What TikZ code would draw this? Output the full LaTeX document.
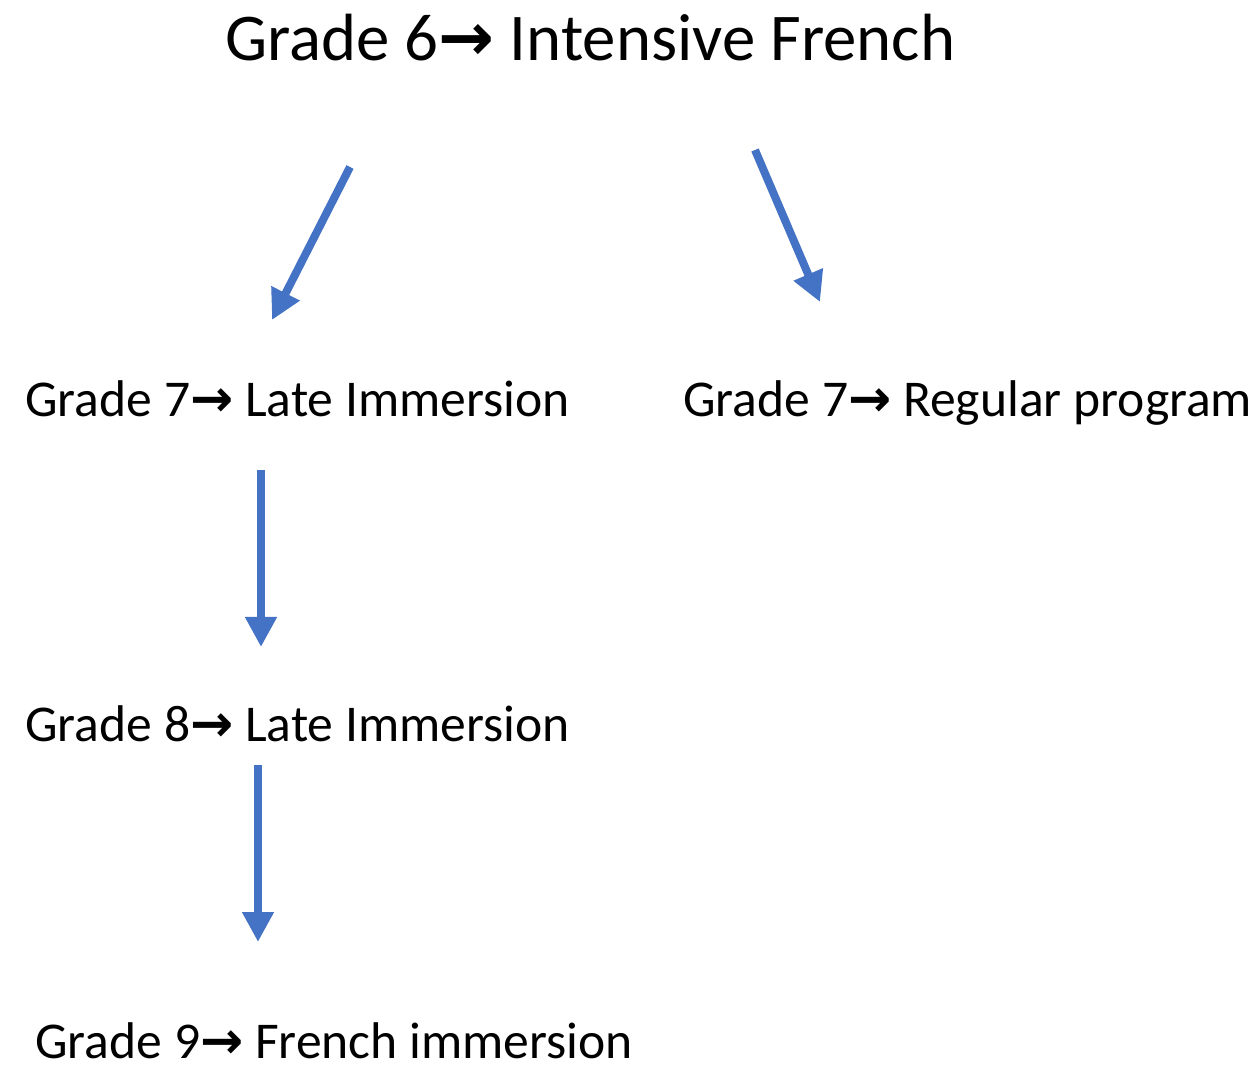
\documentclass[tikz,border=0pt]{standalone}
\usepackage{fontspec}
\setmainfont{Carlito}
\newfontfamily\arrowfont{DejaVu Sans}
\usepackage{tikz}
\usetikzlibrary{arrows.meta,positioning}
\definecolor{arrowblue}{HTML}{4472C4}
\newcommand{\ra}{{\arrowfont\bfseries →}}

\begin{document}
\begin{tikzpicture}[x=0.5pt,y=-0.5pt,>={Triangle[length=15pt,width=15pt]}]
    \tikzstyle{big}=[inner sep=0pt, anchor=base west, font=\fontsize{33.4}{40}\selectfont]
    \tikzstyle{lvl}=[inner sep=0pt, anchor=base west, font=\fontsize{25.8}{30}\selectfont]
    \tikzstyle{flow}=[->, line width=4pt, arrowblue]
    \useasboundingbox (0,0) rectangle (1260,1069);

    \node[big] at (225,61) (g6) {Grade 6\ra{} Intensive French};

    \node[lvl] at (25,417) (g7late) {Grade 7\ra{} Late Immersion};
    \node[lvl] at (683,417) (g7reg) {Grade 7\ra{} Regular program};
    \node[lvl] at (25,741) (g8) {Grade 8\ra{} Late Immersion};
    \node[lvl] at (35,1058) (g9) {Grade 9\ra{} French immersion};

    % arrow ends
    \coordinate (a1s) at (350,167);  \coordinate (a1e) at (272,320);
    \coordinate (a2s) at (755,150);  \coordinate (a2e) at (820,302);
    \coordinate (a3s) at (261,470);  \coordinate (a3e) at (261,647);
    \coordinate (a4s) at (258,765);  \coordinate (a4e) at (258,942);

    \draw[flow] (a1s) -- (a1e);
    \draw[flow] (a2s) -- (a2e);
    \draw[flow] (a3s) -- (a3e);
    \draw[flow] (a4s) -- (a4e);
\end{tikzpicture}
\end{document}
